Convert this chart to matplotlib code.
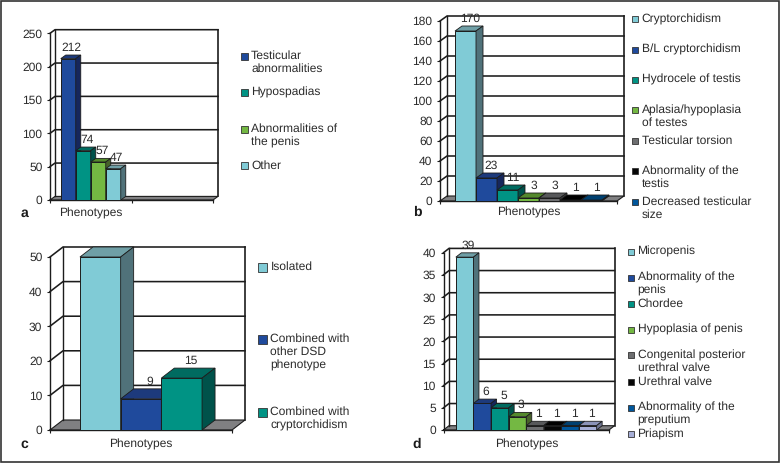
import matplotlib
matplotlib.use("Agg")
import matplotlib.pyplot as plt
from matplotlib.patches import Rectangle

plt.rcParams['font.family'] = ['Liberation Sans', 'DejaVu Sans']
plt.rcParams['text.hinting'] = 'no_hinting'
plt.rcParams['text.hinting_factor'] = 1

W, H = 783, 463
TEXT = '#2b2b2b'
LINE = '#1c1c1c'

# series colours: front, top, side
LIGHT = ('#80cbd6', '#6f9fa6', '#50727a')
BLUE = ('#1f4a9c', '#1d3a7c', '#16275c')
TEAL = ('#009384', '#006b60', '#00524a')
GREEN = ('#74b843', '#54892c', '#47622a')
GREY = ('#6d6e70', '#58595b', '#414244')
BLACK = ('#060606', '#000000', '#000000')
SEA = ('#00569b', '#004070', '#003058')
LAV = ('#a6aed6', '#8b93b8', '#6f7592')

# panel a
a_values = [212, 74, 57, 47]
a_ticks = [0, 50, 100, 150, 200, 250]
a_labels = ['Testicular\nabnormalities', 'Hypospadias', 'Abnormalities of\nthe penis', 'Other']
a_colors = [BLUE, TEAL, GREEN, LIGHT]

# panel b
b_values = [170, 23, 11, 3, 3, 1, 1]
b_ticks = [0, 20, 40, 60, 80, 100, 120, 140, 160, 180]
b_labels = ['Cryptorchidism', 'B/L cryptorchidism', 'Hydrocele of testis',
            'Aplasia/hypoplasia\nof testes', 'Testicular torsion',
            'Abnormality of the\ntestis', 'Decreased testicular\nsize']
b_colors = [LIGHT, BLUE, TEAL, GREEN, GREY, BLACK, SEA]

# panel c
c_values = [50, 9, 15]
c_ticks = [0, 10, 20, 30, 40, 50]
c_labels = ['Isolated', 'Combined with\nother DSD\nphenotype', 'Combined with\ncryptorchidism']
c_colors = [LIGHT, BLUE, TEAL]

# panel d
d_values = [39, 6, 5, 3, 1, 1, 1, 1]
d_ticks = [0, 5, 10, 15, 20, 25, 30, 35, 40]
d_labels = ['Micropenis', 'Abnormality of the\npenis', 'Chordee', 'Hypoplasia of penis',
            'Congenital posterior\nurethral valve', 'Urethral valve',
            'Abnormality of the\npreputium', 'Priapism']
d_colors = [LIGHT, BLUE, TEAL, GREEN, GREY, BLACK, SEA, LAV]

fig = plt.figure(figsize=(W / 100, H / 100), dpi=100)


def draw_panel(letter, values, ticks, colors, labels, box, depth, bar_px, ncat,
               legend_x, legend_y, marker, letter_x, text_y):
    x0, x1, y0, y1 = box
    ax = fig.add_axes([x0 / W, 1 - y0 / H, (x1 - x0) / W, (y0 - y1) / H])
    ax.set_xlim(0, ncat)
    ax.set_ylim(0, ticks[-1])
    ax.patch.set_visible(False)

    # depth offsets in data units
    dx = depth[0] * ncat / (x1 - x0)
    dy = depth[1] * ticks[-1] / (y0 - y1)
    top = ticks[-1]

    # floor
    ax.fill([0, ncat, ncat + dx, dx], [0, 0, dy, dy], color='#808082', zorder=1,
            clip_on=False, lw=0)
    ax.plot([0, ncat, ncat + dx, dx, 0], [0, 0, dy, dy, 0], color=LINE, lw=0.8,
            zorder=1.1, clip_on=False)

    # walls and gridlines
    for t in ticks[1:]:
        ax.plot([0, dx, ncat + dx], [t, t + dy, t + dy], color=LINE, lw=1.15, zorder=1,
                clip_on=False)
    ax.plot([dx, dx], [dy, top + dy], color=LINE, lw=1.0, zorder=1, clip_on=False)
    ax.plot([ncat + dx, ncat + dx], [dy, top + dy], color=LINE, lw=1.2, zorder=1,
            clip_on=False)

    # bars, left to right so the next front face covers the side before it
    w = bar_px * ncat / (x1 - x0)
    gap = (1 - w * len(values)) / 2
    for i, v in enumerate(values):
        left = gap + i * w
        z = 3 + i
        ax.bar(left, v, width=w, align='edge', color=colors[i][0], edgecolor=LINE,
               linewidth=0.7, zorder=z, clip_on=False)
        ax.fill([left, left + w, left + w + dx, left + dx], [v, v, v + dy, v + dy],
                facecolor=colors[i][1], edgecolor=LINE, linewidth=0.6, zorder=z,
                clip_on=False)
        ax.fill([left + w, left + w + dx, left + w + dx, left + w], [0, dy, v + dy, v],
                facecolor=colors[i][2], edgecolor=LINE, linewidth=0.6, zorder=z,
                clip_on=False)
        ax.annotate(str(v), (left + w / 2 + dx * 0.7, v + dy), xytext=(0, 7.5 * 0.72),
                    textcoords='offset points', ha='center', va='center',
                    fontsize=8.5, color=TEXT, zorder=20)

    # axes
    for s in ['top', 'right']:
        ax.spines[s].set_visible(False)
    for s in ['left', 'bottom']:
        ax.spines[s].set_color(LINE)
        ax.spines[s].set_linewidth(1.0)
        ax.spines[s].set_zorder(2)
    ax.set_yticks(ticks)
    ax.set_xticks(range(ncat + 1))
    ax.set_xticklabels([])
    ax.tick_params(axis='both', length=2.5, width=0.8, color=LINE, labelsize=8.5,
                   labelcolor=TEXT, pad=3)

    fig.text((x0 + (x1 - x0) / ncat / 2) / W, 1 - text_y / H, 'Phenotypes', ha='center',
             va='center', fontsize=8.5, color=TEXT)
    fig.text(letter_x / W, 1 - text_y / H, letter, ha='center', va='center', fontsize=10,
             fontweight='bold', color='#1a1a1a')

    # legend
    mx = legend_x
    for i, lab in enumerate(labels):
        my = legend_y[i]
        fig.add_artist(Rectangle(((mx - marker / 2) / W, 1 - (my + marker / 2) / H),
                                 marker / W, marker / H, facecolor=colors[i][0],
                                 edgecolor='#333333', linewidth=0.6,
                                 transform=fig.transFigure))
        # legend text block starts at the marker height on its first line
        fig.text((mx + marker / 2 + 3.5) / W, 1 - (my - 5.5) / H, lab, ha='left', va='top',
                 fontsize=8.5, color=TEXT, linespacing=1.2)


draw_panel('a', a_values, a_ticks, a_colors, a_labels, (50, 213, 200, 33.3), (5, 3.6), 15, 2,
           244, [56, 92.5, 129, 165.5], 7, 24.5, 213)
draw_panel('b', b_values, b_ticks, b_colors, b_labels, (440, 617, 201, 21), (7, 5), 21, 1,
           635, [19, 49.5, 79.5, 110, 141, 171, 202], 6, 417, 212)
draw_panel('c', c_values, c_ticks, c_colors, c_labels, (50, 232, 430, 257), (13, 10), 40.7, 1,
           262.5, [267, 339, 412], 9, 24.5, 444.5)
draw_panel('d', d_values, d_ticks, d_colors, d_labels, (443.5, 609, 430, 252.7), (5.5, 4.3), 17.6, 1,
           631, [251.7, 277.5, 304, 329.5, 355, 381.5, 407.5, 434], 6, 417, 444.5)

# outer frame
fig.add_artist(Rectangle((1 / W, 1 - 461.5 / H), 778 / W, 461 / H, fill=False,
                         edgecolor='#333333', linewidth=1.2, transform=fig.transFigure))

fig.savefig('out.png', dpi=100)
